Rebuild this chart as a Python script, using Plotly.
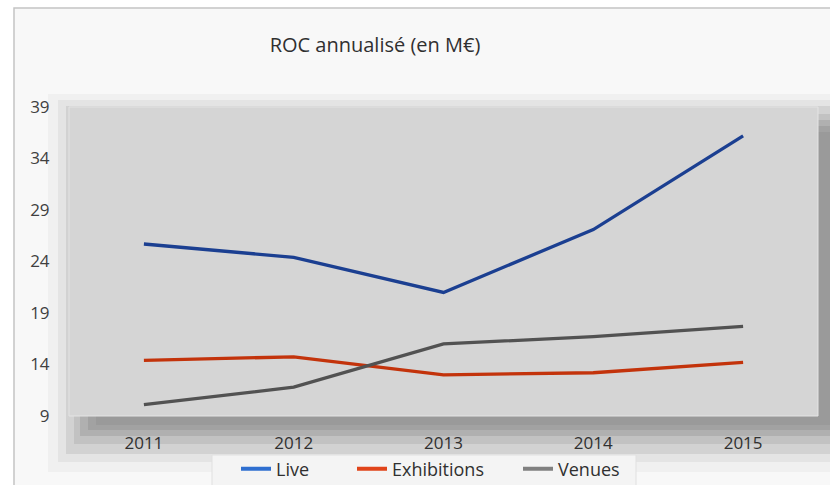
import plotly.graph_objects as go

years = ["2011", "2012", "2013", "2014", "2015"]
live = [25.7, 24.4, 21.0, 27.1, 36.2]
exhibitions = [14.4, 14.75, 13.0, 13.2, 14.2]
venues = [10.1, 11.8, 16.0, 16.7, 17.7]
y_ticks = [9, 14, 19, 24, 29, 34, 39]

W, H = 830, 485
L, R, T, B = 69, 818, 107, 416  # plot area in px


def px(x):
    return (x - L) / (R - L)


def py(y):
    return (B - y) / (B - T)


series = [
    ("Live", live, "#1b3f91", "#2f6fd0", 71),
    ("Exhibitions", exhibitions, "#c3330b", "#e0441a", 121),
    ("Venues", venues, "#525252", "#808080", 70),
]

fig = go.Figure()
for name, vals, col, lcol, lw in series:
    fig.add_trace(go.Scatter(x=years, y=vals, mode="lines", name=name,
                             line=dict(color=col, width=3.3), showlegend=False))
for name, vals, col, lcol, lw in series:
    fig.add_trace(go.Scatter(x=[None], y=[None], mode="lines", name=name,
                             line=dict(color=lcol, width=4), showlegend=True,
                             legendwidth=lw))

shapes = []
# chart frame
shapes.append(dict(type="rect", xref="paper", yref="paper", layer="below",
                   x0=px(14), x1=px(834), y0=py(490), y1=py(8),
                   fillcolor="#f8f8f8", line=dict(color="#c4c4c4", width=1.5)))
# soft shadow gradient around / below plot
for (x0, y0, y1, c) in [
    (48, 94, 472, "#f0f0f0"),
    (58, 100, 462, "#e4e4e4"),
    (66, 106, 454, "#d2d2d2"),
    (74, 114, 444, "#c2c2c2"),
    (80, 120, 436, "#b0b0b0"),
    (88, 126, 430, "#a2a2a2"),
    (96, 132, 425, "#9a9a9a"),
]:
    shapes.append(dict(type="rect", xref="paper", yref="paper", layer="below",
                       x0=px(x0), x1=px(834), y0=py(y1), y1=py(y0),
                       fillcolor=c, line=dict(width=0)))
# plot area
shapes.append(dict(type="rect", xref="paper", yref="paper", layer="below",
                   x0=0, x1=1, y0=0, y1=1,
                   fillcolor="#d5d5d5", line=dict(color="#e4e4e4", width=1)))
# legend box
shapes.append(dict(type="rect", xref="paper", yref="paper", layer="below",
                   x0=px(212), x1=px(636), y0=py(492), y1=py(455),
                   fillcolor="#f4f4f4", line=dict(color="#e0e0e0", width=1)))

fig.update_layout(
    width=W, height=H,
    margin=dict(l=L, r=W - R, t=T, b=H - B, autoexpand=False),
    paper_bgcolor="white",
    plot_bgcolor="rgba(0,0,0,0)",
    font=dict(family="Open Sans", color="#404040", size=17),
    title=dict(text="ROC annualisé (en M€)", x=px(375), xref="paper", xanchor="center",
               y=1 - 45 / H, yanchor="middle",
               font=dict(size=20, color="#303030", family="Open Sans")),
    shapes=shapes,
    showlegend=True,
    legend=dict(orientation="h", x=px(236), xanchor="left", y=py(469), yanchor="middle",
                bgcolor="rgba(0,0,0,0)", font=dict(size=18, color="#303030"),
                itemwidth=30, tracegroupgap=0),
)
fig.update_xaxes(type="category", range=[-0.5, 4.5], showgrid=False, zeroline=False,
                 showline=False, ticks="outside", ticklen=12, tickcolor="rgba(0,0,0,0)",
                 tickfont=dict(size=17, color="#303030"))
fig.update_yaxes(range=[9, 39], tickvals=y_ticks, showgrid=False, zeroline=False,
                 showline=False, ticks="outside", ticklen=15, tickcolor="rgba(0,0,0,0)",
                 tickfont=dict(size=17, color="#404040"))

fig.write_html("out.html", config={"displayModeBar": False},
               post_script="document.body.style.margin='0';document.body.style.overflow='hidden';")
